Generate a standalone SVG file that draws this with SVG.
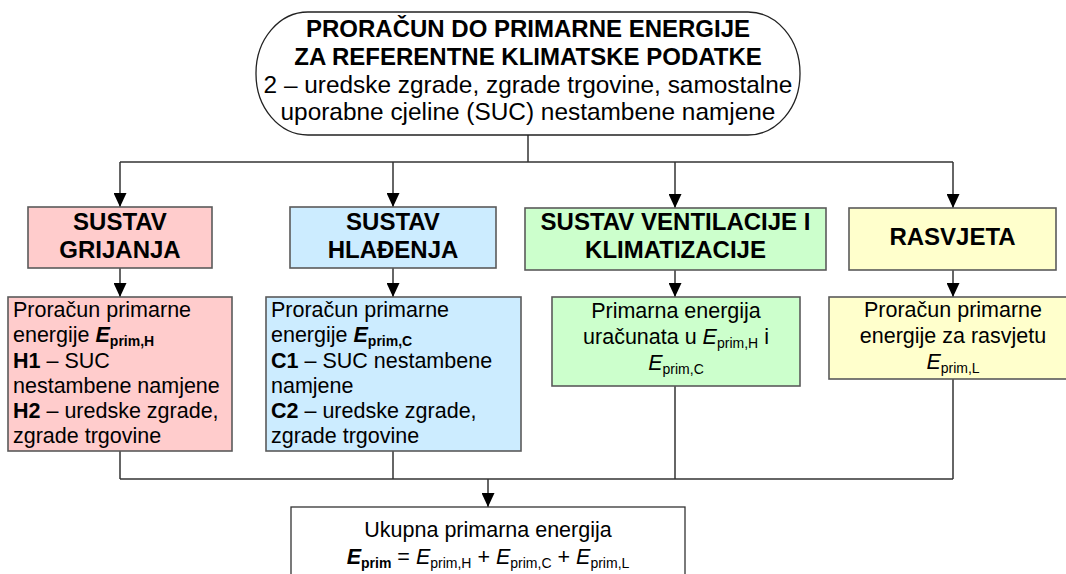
<svg xmlns="http://www.w3.org/2000/svg" width="1066" height="574" viewBox="0 0 1066 574">
<style>
  text { font-family: "Liberation Sans", Arial, sans-serif; fill: #000; }
  .hb { font-size: 24px; font-weight: bold; text-anchor: middle; }
  .hr { font-size: 24.4px; text-anchor: middle; }
  .t { font-size: 21.5px; }
  .c { text-anchor: middle; }
  .b { font-weight: bold; }
  .bi { font-weight: bold; font-style: italic; }
  .i { font-style: italic; }
  .sub { font-size: 14px; }
  .box { stroke: #5a5a5a; stroke-width: 1.6; }
  .red { fill: #FFCCCC; }
  .blue { fill: #CCECFF; }
  .green { fill: #CCFFCC; }
  .yellow { fill: #FFFFCC; }
  .conn { fill: none; stroke: #333; stroke-width: 1.5; }
</style>
<defs>
  <marker id="arr" viewBox="0 0 14 13" refX="14" refY="6.5" markerWidth="14" markerHeight="13" markerUnits="userSpaceOnUse" orient="auto">
    <path d="M0,0 L14,6.5 L0,13 Z" fill="#000"/>
  </marker>
</defs>
<rect width="1066" height="574" fill="#fff"/>

<g id="connectors">
  <path class="conn" d="M528,135 V162"/>
  <path class="conn" d="M120,162 H953" stroke="#111"/>
  <path class="conn" d="M120,162 V207" marker-end="url(#arr)"/>
  <path class="conn" d="M393,162 V207" marker-end="url(#arr)"/>
  <path class="conn" d="M675,162 V208" marker-end="url(#arr)"/>
  <path class="conn" d="M953,162 V208" marker-end="url(#arr)"/>
  <path class="conn" d="M120,268 V297" marker-end="url(#arr)"/>
  <path class="conn" d="M393,268 V297" marker-end="url(#arr)"/>
  <path class="conn" d="M675,270 V297" marker-end="url(#arr)"/>
  <path class="conn" d="M953,270 V297" marker-end="url(#arr)"/>
  <path class="conn" d="M120,451 V479"/>
  <path class="conn" d="M393,451 V479"/>
  <path class="conn" d="M675,386 V479"/>
  <path class="conn" d="M953,379 V479"/>
  <path class="conn" d="M120,479 H953" stroke="#111"/>
  <path class="conn" d="M488,479 V507" marker-end="url(#arr)"/>
</g>

<g id="top">
  <rect x="256" y="12" width="544" height="123" rx="52" ry="61" fill="#fff" stroke="#222" stroke-width="1.3"/>
  <text class="hb" x="528" y="37">PRORAČUN DO PRIMARNE ENERGIJE</text>
  <text class="hb" x="528" y="65">ZA REFERENTNE KLIMATSKE PODATKE</text>
  <text class="hr" x="528" y="93">2 – uredske zgrade, zgrade trgovine, samostalne</text>
  <text class="hr" x="528" y="120">uporabne cjeline (SUC) nestambene namjene</text>
</g>

<g id="grijanje">
  <rect class="box red" x="28" y="207" width="184" height="61"/>
  <text class="hb" x="120" y="230">SUSTAV</text>
  <text class="hb" x="120" y="258">GRIJANJA</text>
</g>

<g id="hladenje">
  <rect class="box blue" x="290" y="207" width="206" height="61"/>
  <text class="hb" x="393" y="230">SUSTAV</text>
  <text class="hb" x="393" y="258">HLAĐENJA</text>
</g>

<g id="ventilacija">
  <rect class="box green" x="525" y="208" width="301" height="62"/>
  <text class="hb" x="675.5" y="230">SUSTAV VENTILACIJE I</text>
  <text class="hb" x="675.5" y="258">KLIMATIZACIJE</text>
</g>

<g id="rasvjeta">
  <rect class="box yellow" x="849" y="208" width="207" height="62"/>
  <text class="hb" x="952.5" y="245">RASVJETA</text>
</g>

<g id="grijanje-proracun">
  <rect class="box red" x="8" y="297" width="224" height="154"/>
  <text class="t" x="13" y="317">Proračun primarne</text>
  <text class="t" x="13" y="342">energije <tspan class="bi">E</tspan><tspan class="b sub" dy="4">prim,H</tspan></text>
  <text class="t" x="13" y="368"><tspan class="b">H1</tspan> – SUC</text>
  <text class="t" x="13" y="393">nestambene namjene</text>
  <text class="t" x="13" y="418"><tspan class="b">H2</tspan> – uredske zgrade,</text>
  <text class="t" x="13" y="443">zgrade trgovine</text>
</g>

<g id="hladenje-proracun">
  <rect class="box blue" x="266" y="297" width="255" height="154"/>
  <text class="t" x="271" y="317">Proračun primarne</text>
  <text class="t" x="271" y="342">energije <tspan class="bi">E</tspan><tspan class="b sub" dy="4">prim,C</tspan></text>
  <text class="t" x="271" y="368"><tspan class="b">C1</tspan> – SUC nestambene</text>
  <text class="t" x="271" y="393">namjene</text>
  <text class="t" x="271" y="418"><tspan class="b">C2</tspan> – uredske zgrade,</text>
  <text class="t" x="271" y="443">zgrade trgovine</text>
</g>

<g id="ventilacija-energija">
  <rect class="box green" x="552" y="297" width="248" height="89"/>
  <text class="t c" x="676" y="318">Primarna energija</text>
  <text class="t c" x="676" y="344">uračunata u <tspan class="i">E</tspan><tspan class="sub" dy="4">prim,H</tspan><tspan dy="-4"> i</tspan></text>
  <text class="t c" x="676" y="370"><tspan class="i">E</tspan><tspan class="sub" dy="4">prim,C</tspan></text>
</g>

<g id="rasvjeta-proracun">
  <rect class="box yellow" x="829" y="297" width="248" height="82"/>
  <text class="t c" x="953" y="317">Proračun primarne</text>
  <text class="t c" x="953" y="343">energije za rasvjetu</text>
  <text class="t c" x="953" y="369"><tspan class="i">E</tspan><tspan class="sub" dy="4">prim,L</tspan></text>
</g>

<g id="ukupno">
  <rect x="291" y="507" width="394" height="90" fill="#fff" stroke="#333" stroke-width="1.3"/>
  <text class="t c" x="488" y="537">Ukupna primarna energija</text>
  <text class="t c" x="488" y="564"><tspan class="bi">E</tspan><tspan class="b sub" dy="4">prim</tspan><tspan dy="-4"> = </tspan><tspan class="i">E</tspan><tspan class="sub" dy="4">prim,H</tspan><tspan dy="-4"> + </tspan><tspan class="i">E</tspan><tspan class="sub" dy="4">prim,C</tspan><tspan dy="-4"> + </tspan><tspan class="i">E</tspan><tspan class="sub" dy="4">prim,L</tspan></text>
</g>
</svg>
